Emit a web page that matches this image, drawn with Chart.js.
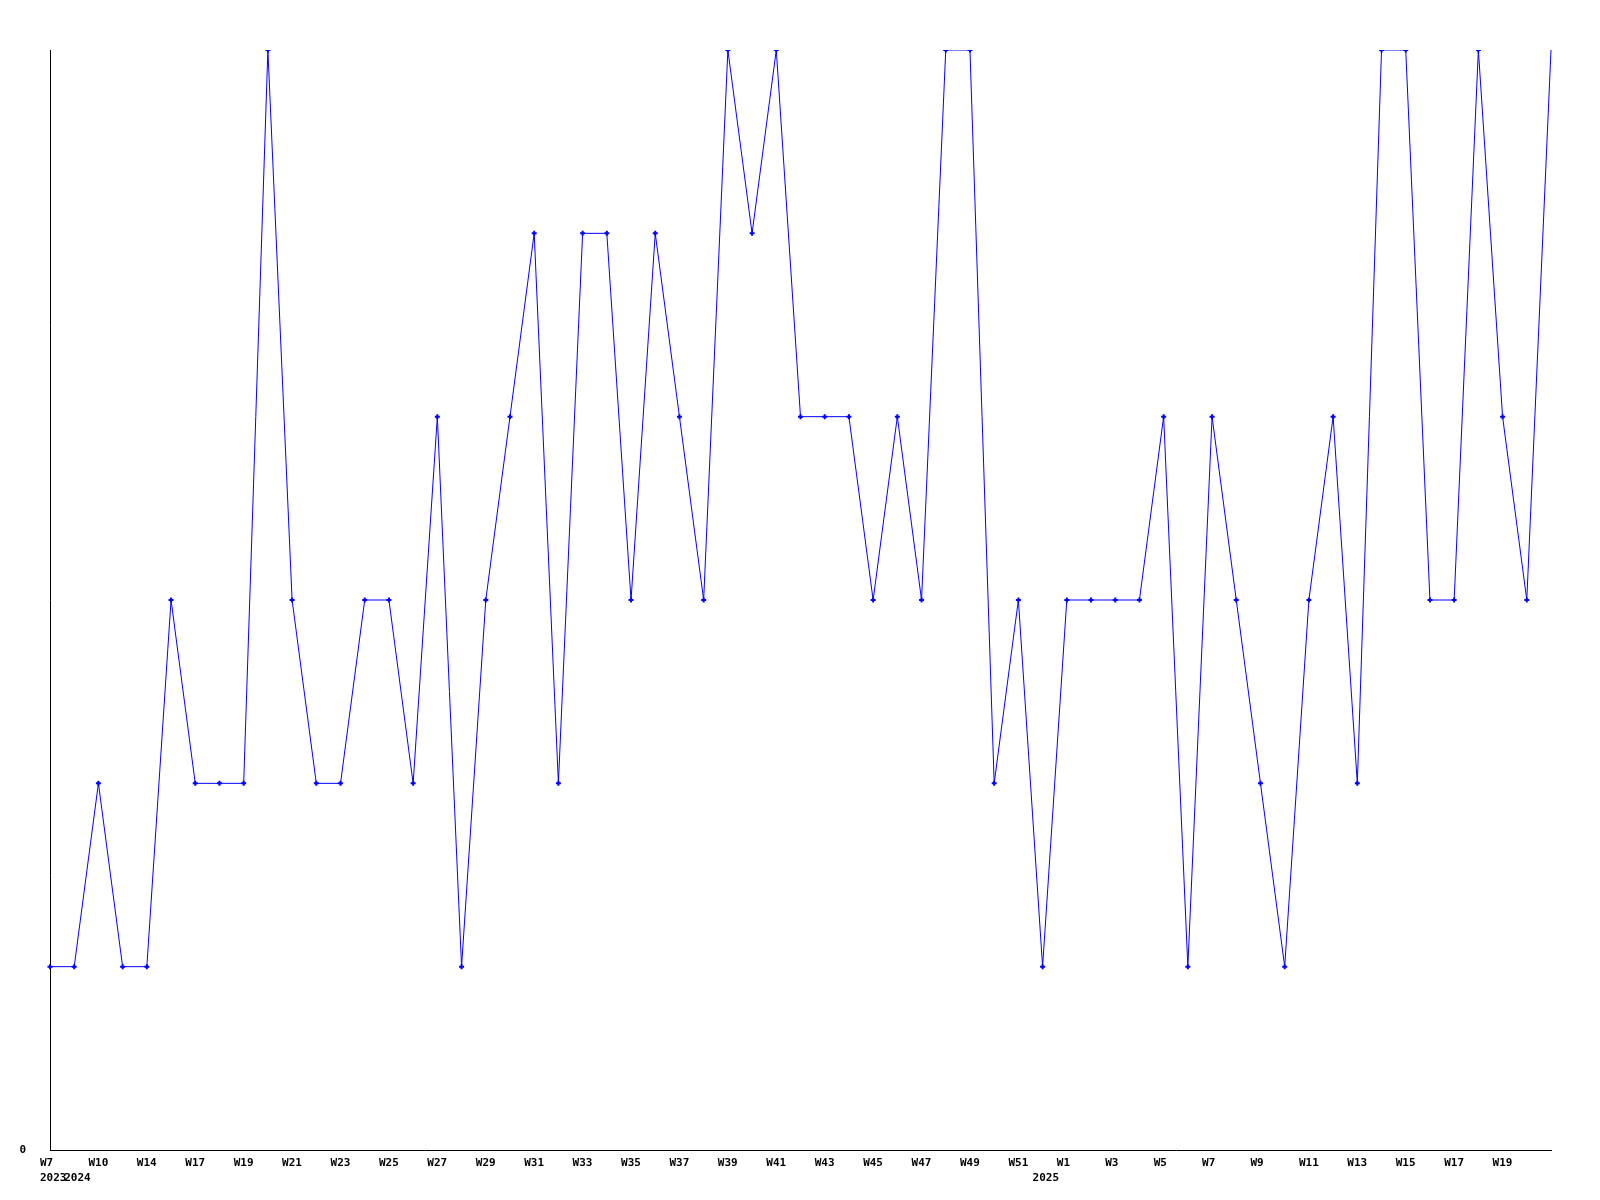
<!DOCTYPE html>
<html>
<head>
<meta charset="utf-8">
<script src="https://cdn.jsdelivr.net/npm/chart.js@4/dist/chart.umd.min.js"></script>
<style>
  html, body { margin: 0; padding: 0; background: #ffffff; }
  #wrap { width: 1600px; height: 1200px; position: relative; }
</style>
</head>
<body>
<div id="wrap"><canvas id="c" width="1600" height="1200"></canvas></div>
<script>
// Categories (week of each data point)
const weeks = [
  'W7','W8','W10','W12','W14','W16','W17','W18','W19','W20',
  'W21','W22','W23','W24','W25','W26','W27','W28','W29','W30',
  'W31','W32','W33','W34','W35','W36','W37','W38','W39','W40',
  'W41','W42','W43','W44','W45','W46','W47','W48','W49','W50',
  'W51','W52','W1','W2','W3','W4','W5','W6','W7','W8',
  'W9','W10','W11','W12','W13','W14','W15','W16','W17','W18',
  'W19','W20','W21'
];
// Year labels shown under specific categories
const yearLabels = { 0: '2023', 1: '2024', 41: '2025' };
// Series values
const values = [
  1,1,2,1,1,3,2,2,2,6,
  3,2,2,3,3,2,4,1,3,4,
  5,2,5,5,3,5,4,3,6,5,
  6,4,4,4,3,4,3,6,6,2,
  3,1,3,3,3,3,4,1,4,3,
  2,1,3,4,2,6,6,3,3,6,
  4,3,6
];
// Y tick labels
const yTicks = [0];
const yMax = 6;

const FONT = 'DejaVu Sans Mono';

new Chart(document.getElementById('c'), {
  type: 'line',
  data: {
    labels: weeks,
    datasets: [{
      data: values,
      borderColor: '#0000ff',
      backgroundColor: '#0000ff',
      borderWidth: 1,
      tension: 0,
      fill: false,
      pointStyle: 'cross',
      pointBorderWidth: 2,
      pointRadius: (ctx) => ctx.dataIndex === values.length - 1 ? 0 : 2.5,
      pointBorderColor: '#0000ff',
      pointBackgroundColor: '#0000ff'
    }]
  },
  options: {
    responsive: false,
    animation: false,
    devicePixelRatio: 1,
    layout: { padding: { top: 50, right: 49, left: 0, bottom: 0 } },
    plugins: { legend: { display: false }, tooltip: { enabled: false } },
    scales: {
      x: {
        type: 'category',
        offset: false,
        grid: { display: false, drawTicks: false },
        border: { display: true, color: '#000000', width: 1 },
        afterFit: (s) => { s.height = 50; },
        ticks: {
          autoSkip: false,
          maxRotation: 0,
          minRotation: 0,
          align: 'start',
          labelOffset: -10,
          padding: 6,
          color: '#000000',
          font: { family: FONT, size: 11, weight: 'bold', lineHeight: 1.35 },
          callback: function (val, i) {
            const w = (i % 2 === 0 && i < weeks.length - 1) ? weeks[i] : '';
            const y = yearLabels[i];
            return y ? [w, y] : w;
          }
        }
      },
      y: {
        min: 0,
        max: yMax,
        grid: { display: false, drawTicks: false },
        border: { display: true, color: '#000000', width: 1 },
        afterFit: (s) => { s.width = 50; },
        afterBuildTicks: (s) => { s.ticks = yTicks.map(v => ({ value: v })); },
        ticks: {
          padding: 24,
          color: '#000000',
          font: { family: FONT, size: 11, weight: 'bold' },
          callback: (v) => String(v)
        }
      }
    }
  }
});
</script>
</body>
</html>
